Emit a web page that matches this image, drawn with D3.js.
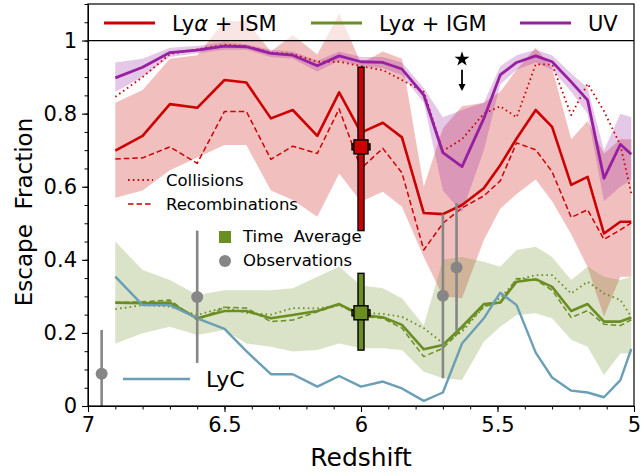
<!DOCTYPE html>
<html>
<head>
<meta charset="utf-8">
<script src="https://cdn.jsdelivr.net/npm/d3@7"></script>
<style>
  body { margin: 0; background: #fff; }
  svg { display: block; font-family: "DejaVu Sans", sans-serif; }
</style>
</head>
<body>
<div id="chart"></div>
<script>
// --- dados ---
const redshift = [6.9, 6.8, 6.7, 6.6, 6.5, 6.42, 6.33, 6.25, 6.16, 6.08, 6.0, 5.92, 5.85,
                  5.77, 5.70, 5.63, 5.55, 5.49, 5.43, 5.36, 5.30, 5.23, 5.17, 5.11, 5.05, 5.01];

// UV
const uv   = [0.898, 0.927, 0.967, 0.974, 0.985, 0.983, 0.965, 0.960, 0.931, 0.958, 0.942, 0.940, 0.922,
              0.851, 0.693, 0.655, 0.787, 0.906, 0.940, 0.958, 0.942, 0.887, 0.837, 0.623, 0.716, 0.689];
const uvHi = [0.94, 0.95, 0.98, 0.985, 0.995, 0.99, 0.975, 0.97, 0.945, 0.97, 0.955, 0.955, 0.94,
              0.87, 0.79, 0.81, 0.83, 0.93, 0.96, 0.975, 0.96, 0.91, 0.87, 0.70, 0.80, 0.79];
const uvLo = [0.86, 0.90, 0.955, 0.965, 0.975, 0.975, 0.955, 0.95, 0.915, 0.945, 0.93, 0.925, 0.905,
              0.83, 0.59, 0.53, 0.70, 0.88, 0.92, 0.94, 0.92, 0.86, 0.80, 0.56, 0.60, 0.62];

// Lya + ISM
const ismTotal = [0.699, 0.739, 0.826, 0.816, 0.892, 0.885, 0.787, 0.810, 0.739, 0.858, 0.748, 0.775, 0.735,
                  0.528, 0.525, 0.550, 0.596, 0.659, 0.732, 0.810, 0.764, 0.605, 0.627, 0.472, 0.504, 0.504];
const ismColl  = [0.846, 0.90, 0.963, 0.976, 0.988, 0.985, 0.967, 0.963, 0.942, 0.942, 0.930, 0.919, 0.892,
                  0.860, 0.698, 0.730, 0.800, 0.820, 0.790, 0.935, 0.935, 0.796, 0.882, 0.807, 0.714, 0.582];
const ismRec   = [0.676, 0.679, 0.709, 0.664, 0.806, 0.806, 0.675, 0.711, 0.691, 0.813, 0.65, 0.705, 0.638,
                  0.427, 0.50, 0.542, 0.575, 0.616, 0.720, 0.701, 0.641, 0.516, 0.537, 0.456, 0.482, 0.501];
const ismHi    = [0.83, 0.865, 0.95, 0.96, 1.053, 1.053, 0.97, 1.015, 0.962, 1.074, 0.938, 0.97, 0.95,
                  0.60, 0.76, 0.82, 0.83, 0.86, 0.92, 0.98, 0.925, 0.73, 0.78, 0.69, 0.73, 0.73];
const ismLo    = [0.57, 0.59, 0.645, 0.68, 0.714, 0.714, 0.59, 0.564, 0.518, 0.636, 0.559, 0.586, 0.545,
                  0.408, 0.30, 0.295, 0.454, 0.54, 0.58, 0.62, 0.56, 0.47, 0.38, 0.244, 0.354, 0.354];

// Lya + IGM
const igmTotal = [0.283, 0.281, 0.283, 0.240, 0.260, 0.260, 0.240, 0.249, 0.260, 0.279, 0.249, 0.243, 0.222,
                  0.155, 0.167, 0.217, 0.279, 0.283, 0.340, 0.347, 0.326, 0.260, 0.279, 0.231, 0.231, 0.242];
const igmColl  = [0.265, 0.276, 0.272, 0.249, 0.27, 0.255, 0.25, 0.268, 0.267, 0.275, 0.255, 0.252, 0.244,
                  0.213, 0.172, 0.203, 0.272, 0.295, 0.345, 0.358, 0.358, 0.308, 0.34, 0.308, 0.29, 0.244];
const igmRec   = [0.283, 0.285, 0.29, 0.235, 0.27, 0.268, 0.231, 0.235, 0.258, 0.277, 0.245, 0.24, 0.213,
                  0.135, 0.158, 0.21, 0.272, 0.283, 0.349, 0.345, 0.317, 0.242, 0.261, 0.224, 0.22, 0.236];
const igmHi    = [0.45, 0.372, 0.345, 0.304, 0.317, 0.317, 0.317, 0.322, 0.354, 0.381, 0.33, 0.322, 0.295,
                  0.22, 0.40, 0.408, 0.395, 0.381, 0.427, 0.436, 0.408, 0.345, 0.381, 0.354, 0.345, 0.354];
const igmLo    = [0.171, 0.199, 0.217, 0.194, 0.208, 0.171, 0.162, 0.149, 0.153, 0.171, 0.158, 0.158, 0.153,
                  0.094, 0.076, 0.071, 0.176, 0.217, 0.249, 0.254, 0.24, 0.181, 0.162, 0.085, 0.144, 0.144];

// LyC
const lyc = [0.354, 0.276, 0.276, 0.24, 0.211, 0.150, 0.087, 0.087, 0.053, 0.082, 0.053, 0.067, 0.048,
             0.014, 0.037, 0.171, 0.240, 0.310, 0.276, 0.146, 0.078, 0.042, 0.037, 0.024, 0.071, 0.156];

// observações
const obsZ  = [6.95, 6.60, 5.70, 5.65];
const obsF  = [0.088, 0.298, 0.302, 0.379];
const obsHi = [0.208, 0.48, 0.525, 0.555];
const obsLo = [-0.05, 0.118, 0.076, 0.206];

// médias temporais (z, valor, min, max)
const avgZ     = [6.0, 6.0];
const avgF     = [0.709, 0.255];
const avgLo    = [0.48, 0.153];
const avgHi    = [0.927, 0.363];
const avgColor = ["#cc0000", "#6b8e23"];

// estrela + seta
const starZ = 5.63, starF = 0.949, arrowTop = 0.92, arrowBottom = 0.862;

const xTicks = [7, 6.5, 6, 5.5, 5];
const yTicks = [0, 0.2, 0.4, 0.6, 0.8, 1];

// --- cores ---
const RED = "#cc0000", GREEN = "#6b8e23", PURPLE = "#96209f", BLUE = "#6a9fb5", GRAY = "#868686";

// --- escalas ---
const W = 642, H = 472;
const L = 88, R = 634, T = 4, B = 406;
const x = d3.scaleLinear([7, 5], [L, R]);
const y = d3.scaleLinear([0, 1.1], [B, T]);

const svg = d3.select("#chart").append("svg")
  .attr("width", W).attr("height", H)
  .attr("viewBox", [0, 0, W, H]);

svg.append("defs").append("clipPath").attr("id", "plot")
  .append("rect").attr("x", L).attr("y", T).attr("width", R - L).attr("height", B - T);

const g = svg.append("g").attr("clip-path", "url(#plot)");

const band = d3.area()
  .x((d, i) => x(redshift[i]))
  .y0(d => y(d[0]))
  .y1(d => y(d[1]));
const line = d3.line()
  .x((d, i) => x(redshift[i]))
  .y(d => y(d));

// faixas
g.append("path").attr("d", band(d3.zip(ismLo, ismHi))).attr("fill", RED).attr("fill-opacity", 0.25);
g.append("path").attr("d", band(d3.zip(igmLo, igmHi))).attr("fill", GREEN).attr("fill-opacity", 0.25);
g.append("path").attr("d", band(d3.zip(uvLo, uvHi))).attr("fill", PURPLE).attr("fill-opacity", 0.25);

function drawLine(data, color, width, dash) {
  g.append("path").attr("d", line(data))
    .attr("fill", "none").attr("stroke", color).attr("stroke-width", width)
    .attr("stroke-dasharray", dash || null)
    .attr("stroke-linejoin", "round");
}

drawLine(ismColl, RED, 1.8, "1.6,3.2");
drawLine(ismRec, RED, 1.5, "5.5,3");
drawLine(ismTotal, RED, 2.6);
drawLine(igmColl, GREEN, 1.8, "1.6,3.2");
drawLine(igmRec, GREEN, 1.5, "5.5,3");
drawLine(igmTotal, GREEN, 2.6);
drawLine(uv, PURPLE, 2.8);
drawLine(lyc, BLUE, 2.4);

// observações
obsZ.forEach((z, i) => {
  g.append("line")
    .attr("x1", x(z)).attr("x2", x(z))
    .attr("y1", y(obsLo[i])).attr("y2", y(obsHi[i]))
    .attr("stroke", GRAY).attr("stroke-width", 2.6);
  g.append("circle").attr("cx", x(z)).attr("cy", y(obsF[i])).attr("r", 6).attr("fill", GRAY);
});

// médias temporais
avgZ.forEach((z, i) => {
  const cx = x(z), cy = y(avgF[i]);
  g.append("rect")
    .attr("x", cx - 3).attr("width", 6)
    .attr("y", y(avgHi[i])).attr("height", y(avgLo[i]) - y(avgHi[i]))
    .attr("fill", avgColor[i]).attr("stroke", "#000").attr("stroke-width", 1.4);
  g.append("rect")
    .attr("x", cx - 9).attr("width", 18).attr("y", cy - 3).attr("height", 6)
    .attr("fill", avgColor[i]).attr("stroke", "#000").attr("stroke-width", 1.4);
  g.append("rect")
    .attr("x", cx - 7).attr("width", 14).attr("y", cy - 7).attr("height", 14)
    .attr("fill", avgColor[i]).attr("stroke", "#000").attr("stroke-width", 1.4);
});

// estrela e seta
g.append("path")
  .attr("d", d3.symbol(d3.symbolStar, 70)())
  .attr("transform", `translate(${x(starZ)},${y(starF)})`)
  .attr("fill", "#000");
g.append("line")
  .attr("x1", x(starZ)).attr("x2", x(starZ))
  .attr("y1", y(arrowTop)).attr("y2", y(arrowBottom) - 5)
  .attr("stroke", "#000").attr("stroke-width", 1.8);
g.append("path")
  .attr("d", `M${x(starZ) - 3.5},${y(arrowBottom) - 7}L${x(starZ) + 3.5},${y(arrowBottom) - 7}L${x(starZ)},${y(arrowBottom)}Z`)
  .attr("fill", "#000");

// legenda superior
svg.append("rect").attr("x", L).attr("y", T).attr("width", R - L).attr("height", y(1) - T)
  .attr("fill", "#fff").attr("fill-opacity", 0.6);
svg.append("line").attr("x1", L).attr("x2", R).attr("y1", y(1)).attr("y2", y(1))
  .attr("stroke", "#000").attr("stroke-width", 1.2);

const topLegend = [
  { color: RED, x0: 104, tx: 172, parts: ["Ly", "α", " + ISM"] },
  { color: GREEN, x0: 311, tx: 379, parts: ["Ly", "α", " + IGM"] },
  { color: PURPLE, x0: 520, tx: 588, parts: ["UV"] }
];
topLegend.forEach(d => {
  svg.append("line").attr("x1", d.x0).attr("x2", d.x0 + 51).attr("y1", 23).attr("y2", 23)
    .attr("stroke", d.color).attr("stroke-width", 2.8);
  const t = svg.append("text").attr("x", d.tx).attr("y", 30.5)
    .attr("font-size", 21).attr("fill", "#000").style("white-space", "pre");
  d.parts.forEach((p, k) => {
    const s = t.append("tspan").text(p);
    if (k === 1) s.attr("font-style", "italic");
  });
});

// legenda interna (colisões / recombinações)
svg.append("line").attr("x1", 128).attr("x2", 153).attr("y1", 180).attr("y2", 180)
  .attr("stroke", RED).attr("stroke-width", 1.8).attr("stroke-dasharray", "1.6,3.2");
svg.append("text").attr("x", 166).attr("y", 186).attr("font-size", 16.5).text("Collisions");
svg.append("line").attr("x1", 128).attr("x2", 153).attr("y1", 204).attr("y2", 204)
  .attr("stroke", RED).attr("stroke-width", 1.5).attr("stroke-dasharray", "5.5,3");
svg.append("text").attr("x", 166).attr("y", 210).attr("font-size", 16.5).text("Recombinations");

svg.append("rect").attr("x", 219).attr("y", 231).attr("width", 12).attr("height", 12).attr("fill", GREEN);
svg.append("text").attr("x", 243).attr("y", 242).attr("font-size", 16.5)
  .style("white-space", "pre").text("Time  Average");
svg.append("circle").attr("cx", 225).attr("cy", 261).attr("r", 6).attr("fill", GRAY);
svg.append("text").attr("x", 243).attr("y", 266).attr("font-size", 16.5).text("Observations");

svg.append("line").attr("x1", 123).attr("x2", 190).attr("y1", 379).attr("y2", 379)
  .attr("stroke", BLUE).attr("stroke-width", 2.4);
svg.append("text").attr("x", 206).attr("y", 387).attr("font-size", 22).text("LyC");

// eixos
const fmt = d => String(d);
const xAxis = svg.append("g").attr("transform", `translate(0,${B})`)
  .call(d3.axisBottom(x).tickValues(xTicks).tickFormat(fmt).tickSize(6).tickPadding(5).tickSizeOuter(0));
svg.append("g").attr("transform", `translate(0,${B})`)
  .call(d3.axisBottom(x).tickValues(d3.range(50, 71).map(v => v / 10)).tickFormat("").tickSize(3.5).tickSizeOuter(0))
  .select(".domain").remove();
const yAxis = svg.append("g").attr("transform", `translate(${L},0)`)
  .call(d3.axisLeft(y).tickValues(yTicks).tickFormat(fmt).tickSize(6).tickPadding(5).tickSizeOuter(0));
svg.append("g").attr("transform", `translate(${L},0)`)
  .call(d3.axisLeft(y).tickValues(d3.range(0, 23).map(v => v * 0.05)).tickFormat("").tickSize(3.5).tickSizeOuter(0))
  .select(".domain").remove();

[xAxis, yAxis].forEach(a => {
  a.selectAll("text").attr("font-size", 21).attr("font-family", "DejaVu Sans").attr("fill", "#000");
  a.selectAll("line").attr("stroke-width", 1.1);
});
svg.selectAll(".tick line").attr("stroke", "#000");

// moldura
svg.append("rect").attr("x", L).attr("y", T).attr("width", R - L).attr("height", B - T)
  .attr("fill", "none").attr("stroke", "#000").attr("stroke-width", 1.2);

// títulos dos eixos
svg.append("text").attr("x", (L + R) / 2).attr("y", 466).attr("text-anchor", "middle")
  .attr("font-size", 25).text("Redshift");
svg.append("text").attr("transform", "translate(32,212) rotate(-90)")
  .attr("text-anchor", "middle").attr("font-size", 23)
  .style("white-space", "pre").text("Escape  Fraction");
</script>
</body>
</html>
